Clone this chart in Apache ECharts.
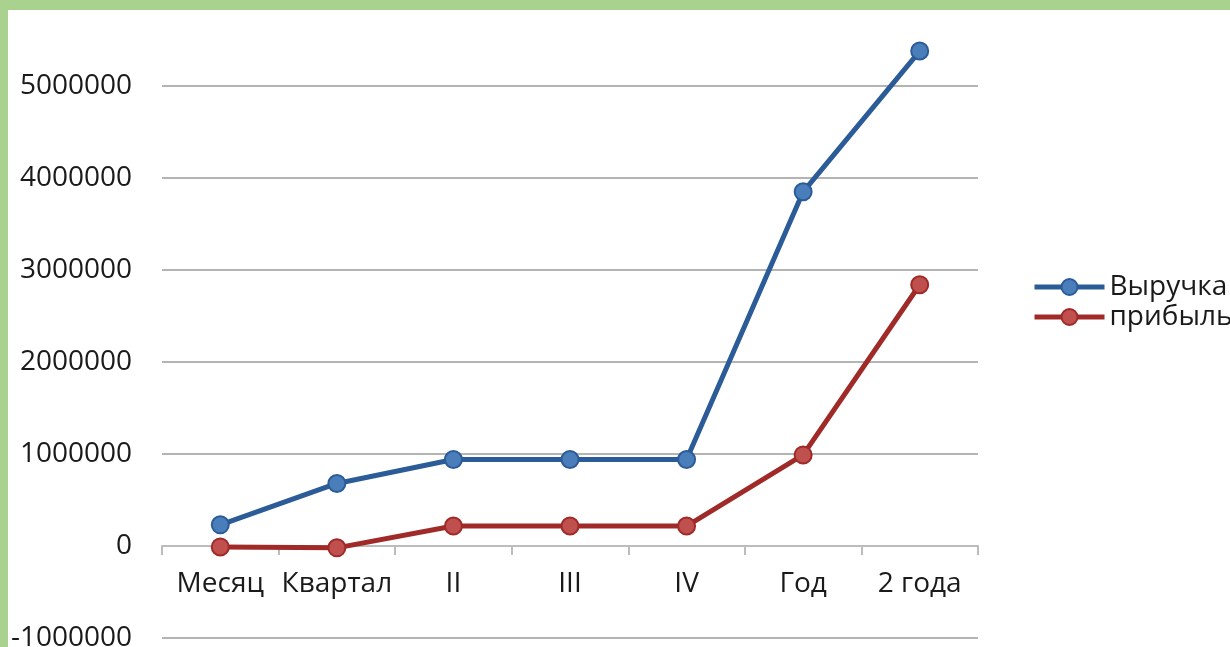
<!DOCTYPE html>
<html>
<head>
<meta charset="utf-8">
<script src="https://cdn.jsdelivr.net/npm/echarts@6/dist/echarts.min.js"></script>
<style>
  html, body { margin: 0; padding: 0; background: #fff; }
  #chart { width: 1230px; height: 647px; }
</style>
</head>
<body>
<div id="chart"></div>
<script>
  // категории и значения
  var categories = ['Месяц', 'Квартал', 'II', 'III', 'IV', 'Год', '2 года'];
  var revenue = [230000, 680000, 940000, 940000, 940000, 3850000, 5380000];
  var profit = [-10000, -20000, 217000, 217000, 217000, 990000, 2840000];
  var yMin = -1000000;
  var yMax = 6000000;
  var yStep = 1000000;

  var font = '"Open Sans", sans-serif';
  var chart = echarts.init(document.getElementById('chart'));

  function lineSeries(name, data, lineColor, fillColor) {
    return {
      name: name,
      type: 'line',
      data: data,
      symbol: 'circle',
      symbolSize: 17,
      lineStyle: { color: lineColor, width: 5 },
      itemStyle: { color: fillColor, borderColor: lineColor, borderWidth: 2 },
      emphasis: { disabled: true }
    };
  }

  chart.setOption({
    animation: false,
    textStyle: { fontFamily: font },
    grid: { left: 162, right: 252, top: -6, bottom: 9, outerBoundsMode: 'none', containLabel: false },
    legend: {
      orient: 'vertical',
      left: 1027,
      top: 268,
      itemWidth: 70,
      itemHeight: 20,
      itemGap: 2,
      lineStyle: { width: 5 },
      textStyle: { fontSize: 28, color: '#1a1a1a', fontFamily: font },
      data: ['Выручка', 'прибыль']
    },
    xAxis: {
      type: 'category',
      data: categories,
      boundaryGap: true,
      axisLine: { onZero: true, lineStyle: { color: '#bcbcbc', width: 2 } },
      axisTick: { show: true, length: 9, lineStyle: { color: '#bcbcbc', width: 2 } },
      // подписи под нулевой линией
      axisLabel: { fontSize: 28, color: '#1a1a1a', margin: -68, interval: 0 }
    },
    yAxis: {
      type: 'value',
      min: yMin,
      max: yMax,
      interval: yStep,
      axisLine: { show: false },
      axisTick: { show: false },
      axisLabel: {
        fontSize: 28, color: '#1a1a1a', margin: 30, showMaxLabel: false,
        formatter: function (v) { return String(v); }
      },
      splitLine: { lineStyle: { color: '#b4b4b4', width: 2 } }
    },
    series: [
      lineSeries('Выручка', revenue, '#2b5c98', '#4a7ebb'),
      lineSeries('прибыль', profit, '#a02a28', '#c0504d')
    ],
    graphic: [
      { type: 'rect', z: 100, shape: { x: 0, y: 0, width: 1230, height: 10 }, style: { fill: '#a9d28e' } },
      { type: 'rect', z: 100, shape: { x: 0, y: 0, width: 8, height: 647 }, style: { fill: '#a9d28e' } }
    ]
  });
</script>
</body>
</html>
